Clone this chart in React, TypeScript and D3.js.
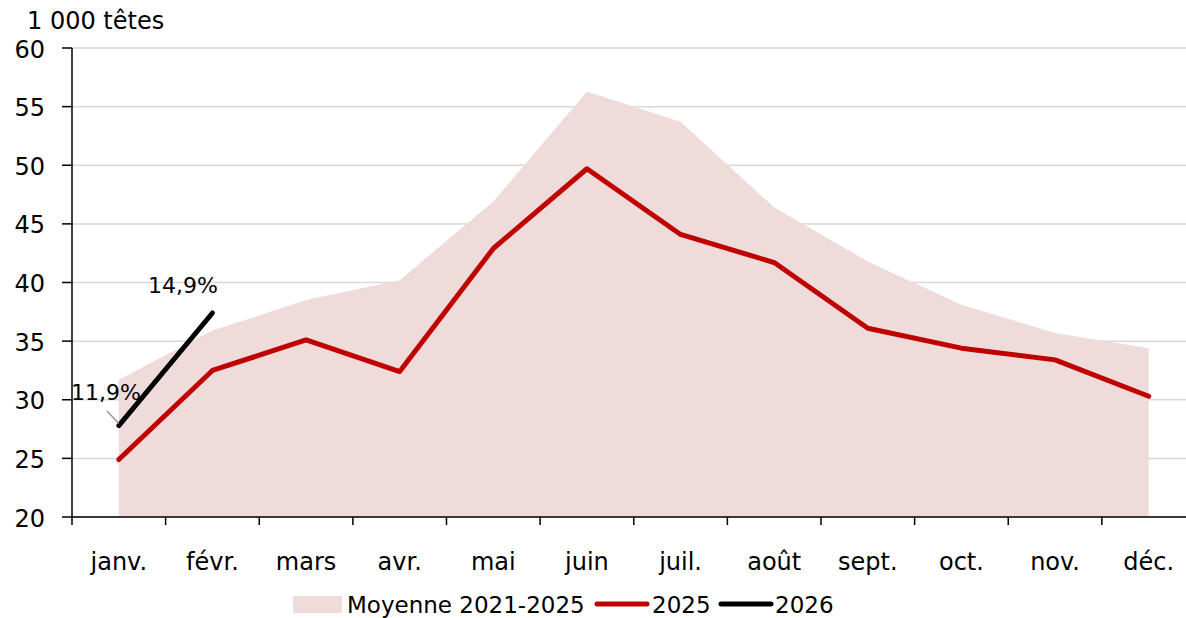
import React from "react";
import * as d3 from "d3";

const months = ["janv.", "févr.", "mars", "avr.", "mai", "juin", "juil.", "août", "sept.", "oct.", "nov.", "déc."];
const moyenne = [31.7, 35.9, 38.5, 40.2, 46.9, 56.3, 53.7, 46.4, 41.8, 38.1, 35.7, 34.4];
const serie2025 = [24.9, 32.5, 35.1, 32.4, 42.9, 49.7, 44.1, 41.7, 36.1, 34.4, 33.4, 30.3];
const serie2026 = [27.8, 37.4];
const yTicks = [20, 25, 30, 35, 40, 45, 50, 55, 60];
const annotations = [
  { label: "11,9%", idx: 0 },
  { label: "14,9%", idx: 1 },
];

const W = 1186;
const H = 618;
const FONT = "'DejaVu Sans', sans-serif";
const FS = 24;

export default function App() {
  const left = 72;
  const right = 1195.5;
  const top = 48;
  const bottom = 517;
  const x = d3.scaleBand<string>().domain(months).range([left, right]);
  const cx = (i: number) => (x(months[i]) as number) + x.bandwidth() / 2;
  const y = d3.scaleLinear().domain([20, 60]).range([bottom, top]);

  const area = d3
    .area<number>()
    .x((_, i) => cx(i))
    .y0(y(20))
    .y1((d) => y(d));
  const line = d3
    .line<number>()
    .x((_, i) => cx(i))
    .y((d) => y(d));

  const boundaries = months.map((m) => x(m) as number).concat([right]);

  return (
    <svg width={W} height={H} style={{ position: "absolute", left: 0, top: 0 }} fontFamily={FONT}>
      <rect width={W} height={H} fill="#fff" />
      {yTicks.map((t) => (
        <line key={"g" + t} x1={left} x2={W} y1={y(t)} y2={y(t)} stroke="#d9d9d9" strokeWidth={1.5} />
      ))}
      <path d={area(moyenne) || ""} fill="#f0dbdb" />
      <path d={line(serie2025) || ""} fill="none" stroke="#c00000" strokeWidth={5} strokeLinejoin="round" strokeLinecap="round" />
      <path d={line(serie2026) || ""} fill="none" stroke="#000" strokeWidth={5} strokeLinejoin="round" strokeLinecap="round" />
      {/* y axis */}
      <line x1={left} x2={left} y1={top} y2={bottom} stroke="#000" strokeWidth={1.5} />
      {yTicks.map((t) => (
        <g key={"y" + t}>
          <line x1={left - 10} x2={left} y1={y(t)} y2={y(t)} stroke="#000" strokeWidth={1.5} />
          <text x={45} y={y(t) + 9.5} textAnchor="end" fontSize={FS} fill="#000">
            {t}
          </text>
        </g>
      ))}
      <text x={27} y={28.5} fontSize={FS} fill="#000">
        1 000 têtes
      </text>
      {/* x axis */}
      <line x1={left} x2={W} y1={bottom} y2={bottom} stroke="#000" strokeWidth={1.5} />
      {boundaries.map((b, i) => (
        <line key={"xt" + i} x1={b} x2={b} y1={bottom} y2={bottom + 8} stroke="#000" strokeWidth={1.5} />
      ))}
      {months.map((m, i) => (
        <text key={m} x={cx(i)} y={570} textAnchor="middle" fontSize={FS} fill="#000">
          {m}
        </text>
      ))}
      {/* annotations */}
      <line x1={107} y1={411} x2={cx(annotations[0].idx)} y2={y(serie2026[0]) - 2} stroke="#999" strokeWidth={1.5} />
      <text x={106} y={400} textAnchor="middle" fontSize={22} fill="#000">
        {annotations[0].label}
      </text>
      <text x={183} y={293} textAnchor="middle" fontSize={22} fill="#000">
        {annotations[1].label}
      </text>
      {/* legend */}
      <rect x={293} y={596} width={49} height={17} fill="#f0dbdb" />
      <text x={347} y={613} fontSize={23} fill="#000">Moyenne 2021-2025</text>
      <line x1={597} x2={647} y1={604} y2={604} stroke="#c00000" strokeWidth={5} strokeLinecap="round" />
      <text x={652} y={613} fontSize={23} fill="#000">2025</text>
      <line x1={721} x2={771} y1={604} y2={604} stroke="#000" strokeWidth={5} strokeLinecap="round" />
      <text x={775} y={613} fontSize={23} fill="#000">2026</text>
    </svg>
  );
}
